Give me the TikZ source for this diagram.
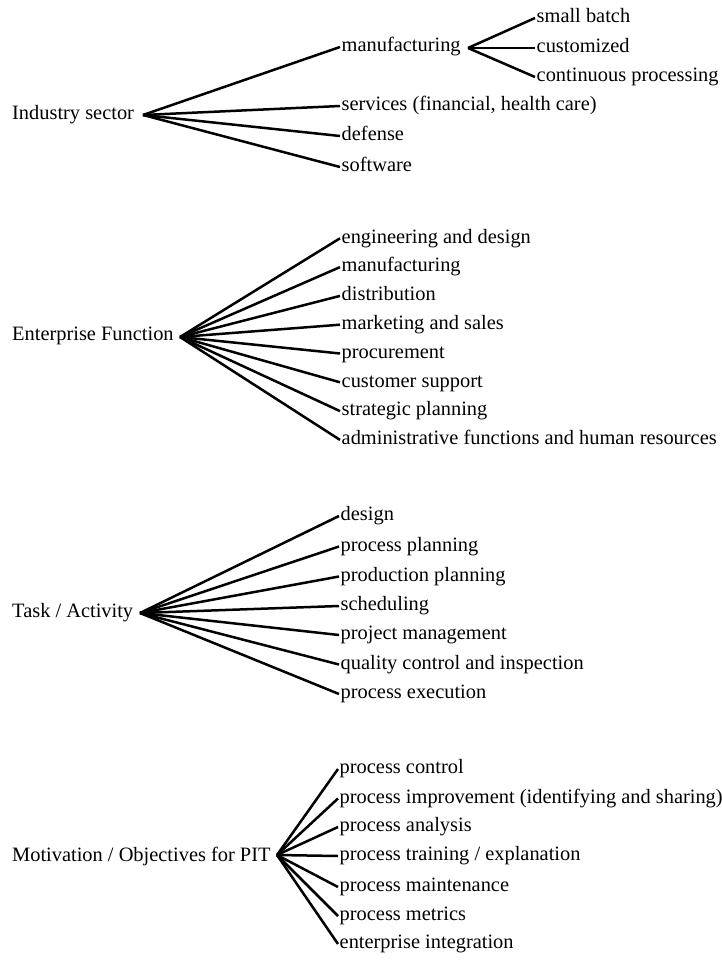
\documentclass[tikz,border=0pt]{standalone}
\usepackage{fontspec}
\setmainfont{Liberation Serif}
\begin{document}
\begin{tikzpicture}[x=1pt,y=-1pt,
  txt/.style={anchor=west, inner ysep=0pt, text height=14pt, text depth=4.6pt,
    font=\fontsize{20.4}{24}\selectfont},
  lbl/.style={txt, inner xsep=1.5pt},
  root/.style={txt, inner xsep=0pt},
  br/.style={line width=2.5pt, line cap=butt, line join=miter}]
\useasboundingbox (0,0) rectangle (722,960);

% ---------- Industry sector ----------
\node[root] (is) at (12,115) {Industry sector};
\coordinate (jis) at (143,115);
\node[lbl] (is1) at (340,47)  {manufacturing};
\node[lbl] (is2) at (340,106) {services (financial, health care)};
\node[lbl] (is3) at (340,136) {defense};
\node[lbl] (is4) at (340,167) {software};
\foreach \n in {is1,is2,is3,is4} \draw[br] (jis) -- (\n.west);

\coordinate (jman) at (468,48);
\node[lbl] (m1) at (535,18) {small batch};
\node[lbl] (m2) at (535,48) {customized};
\node[lbl] (m3) at (535,77) {continuous processing};
\foreach \n in {m1,m2,m3} \draw[br] (jman) -- (\n.west);

% ---------- Enterprise Function ----------
\node[root] (ef) at (12,336) {Enterprise Function};
\coordinate (jef) at (180,337);
\node[lbl] (ef1) at (340,238.3) {engineering and design};
\node[lbl] (ef2) at (340,267.1) {manufacturing};
\node[lbl] (ef3) at (340,295.9) {distribution};
\node[lbl] (ef4) at (340,324.7) {marketing and sales};
\node[lbl] (ef5) at (340,353.5) {procurement};
\node[lbl] (ef6) at (340,382.3) {customer support};
\node[lbl] (ef7) at (340,411.1) {strategic planning};
\node[lbl] (ef8) at (340,439.9) {administrative functions and human resources};
\foreach \n in {ef1,ef2,ef3,ef4,ef5,ef6,ef7,ef8} \draw[br] (jef) -- (\n.west);

% ---------- Task / Activity ----------
\node[root] (ta) at (12,613) {Task / Activity};
\coordinate (jta) at (140,613);
\node[lbl] (ta1) at (339,516)   {design};
\node[lbl] (ta2) at (339,546.5) {process planning};
\node[lbl] (ta3) at (339,576.5) {production planning};
\node[lbl] (ta4) at (339,606)   {scheduling};
\node[lbl] (ta5) at (339,635)   {project management};
\node[lbl] (ta6) at (339,664.5) {quality control and inspection};
\node[lbl] (ta7) at (339,694)   {process execution};
\foreach \n in {ta1,ta2,ta3,ta4,ta5,ta6,ta7} \draw[br] (jta) -- (\n.west);

% ---------- Motivation / Objectives for PIT ----------
\node[root] (mo) at (12,857) {Motivation / Objectives for PIT};
\coordinate (jmo) at (277,855);
\node[lbl] (mo1) at (338,769)   {process control};
\node[lbl] (mo2) at (338,798.5) {process improvement (identifying and sharing)};
\node[lbl] (mo3) at (338,827)   {process analysis};
\node[lbl] (mo4) at (338,856)   {process training / explanation};
\node[lbl] (mo5) at (338,887)   {process maintenance};
\node[lbl] (mo6) at (338,916)   {process metrics};
\node[lbl] (mo7) at (338,944)   {enterprise integration};
\foreach \n in {mo1,mo2,mo3,mo4,mo5,mo6,mo7} \draw[br] (jmo) -- (\n.west);
\end{tikzpicture}
\end{document}
